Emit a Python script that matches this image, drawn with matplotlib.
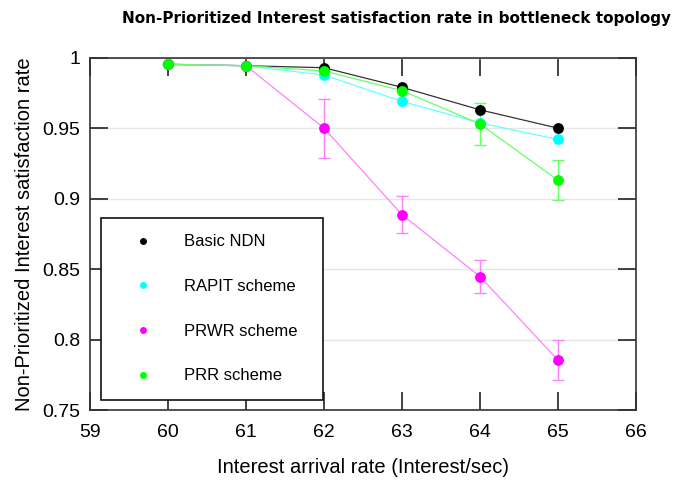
import numpy as np
import matplotlib
matplotlib.use("Agg")
import matplotlib.pyplot as plt
from matplotlib.lines import Line2D

# =========================
# DATA
# =========================
rates = [60, 61, 62, 63, 64, 65]

basic_ndn = [0.9953, 0.9943, 0.9929, 0.979, 0.963, 0.950]
rapit = [0.9953, 0.9943, 0.9877, 0.969, 0.9537, 0.942]
prwr = [0.9953, 0.9943, 0.950, 0.8886, 0.8447, 0.7854]
prr = [0.9953, 0.9943, 0.9906, 0.9766, 0.953, 0.913]

prwr_err = [0, 0, 0.021, 0.013, 0.0115, 0.0144]
prr_err = [0, 0, 0, 0, 0.015, 0.0143]

labels = ["Basic NDN", "RAPIT scheme", "PRWR scheme", "PRR scheme"]
colors = ["#000000", "#00ffff", "#ff00ff", "#00ff00"]
line_colors = ["#333333", "#66ffff", "#ff80ff", "#66ff66"]

x_ticks = [59, 60, 61, 62, 63, 64, 65, 66]
y_ticks = [0.75, 0.8, 0.85, 0.9, 0.95, 1]
y_ticklabels = ["0.75", "0.8", "0.85", "0.9", "0.95", "1"]

# =========================
# PLOT
# =========================
plt.rcParams["font.family"] = ["Liberation Sans", "DejaVu Sans"]

fig = plt.figure(figsize=(6.75, 4.8), dpi=100)
ax = fig.add_axes([0.1333, 0.1458, 0.8089, 0.734])

series = [basic_ndn, rapit, prwr, prr]
errors = [None, None, prwr_err, prr_err]

for vals, err, c, lc in zip(series, errors, colors, line_colors):
    if err is not None:
        ax.errorbar(rates, vals, yerr=err, fmt="none", ecolor=lc,
                    elinewidth=1, capsize=4, capthick=1, zorder=2)
    ax.plot(rates, vals, color=lc, linewidth=0.9, zorder=3)
    ax.plot(rates, vals, linestyle="none", marker="o", markersize=7.8,
            color=c, markeredgewidth=0, zorder=4)

ax.set_xlim(59, 66)
ax.set_ylim(0.75, 1.0)
ax.set_xticks(x_ticks)
ax.set_yticks(y_ticks)
ax.set_yticklabels(y_ticklabels)
ax.yaxis.grid(True, color="#e6e6e6", linewidth=1)
ax.set_axisbelow(True)

ax.tick_params(direction="in", length=13, width=1.2, color="#222222",
               top=True, right=True, labelsize=14)
ax.tick_params(axis="x", pad=10)
ax.tick_params(axis="y", pad=7)
for s in ax.spines.values():
    s.set_color("#333333")
    s.set_linewidth(1.2)

ax.set_xlabel("Interest arrival rate (Interest/sec)", fontsize=14.5, labelpad=12)
ax.set_ylabel("Non-Prioritized Interest satisfaction rate", fontsize=14.5, labelpad=6)

fig.text(0.587, 0.962, "Non-Prioritized Interest satisfaction rate in bottleneck topology",
         ha="center", va="center", fontsize=11, fontweight="bold",
         family=["DejaVu Sans"])

# legend: box stretched to the width seen in the original
handles = [Line2D([], [], linestyle="none", marker="o", markersize=5,
                  color=c, markeredgewidth=0) for c in colors]
leg = ax.legend(handles, labels, loc="lower left",
                bbox_to_anchor=(0.02, 0.028, 0.407, 0.5), mode="expand",
                fontsize=12, frameon=True, fancybox=False, framealpha=1,
                edgecolor="#111111", borderpad=1.0, labelspacing=1.78,
                handlelength=3.1, handletextpad=0.9, borderaxespad=0)
leg.get_frame().set_linewidth(1.2)

fig.savefig("out.png", dpi=100)
